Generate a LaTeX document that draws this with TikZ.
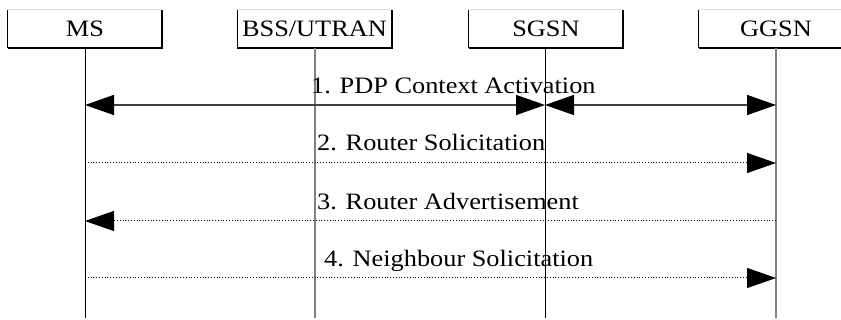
\documentclass[tikz,border=0pt]{standalone}
\usepackage{fontspec}
\setmainfont[FakeStretch=1.12]{Liberation Serif}
\usetikzlibrary{arrows.meta}
\begin{document}
\begin{tikzpicture}[x=1pt,y=-1pt,
  entity/.style={minimum width=154pt,minimum height=38pt,inner sep=0pt},
  etext/.style={anchor=base,inner sep=0pt,font=\fontsize{23.5}{25}\selectfont},
  lifeblack/.style={line width=1pt,black},
  lifegray/.style={line width=1.2pt,black!50},
  msgsolid/.style={line width=1.5pt,black!75,{Triangle[length=29pt,width=20pt,fill=black,color=black]}-{Triangle[length=29pt,width=20pt,fill=black,color=black]}},
  msgdot/.style={line width=1pt,dash pattern=on 1pt off 1.8pt,black},
  tip/.style={-{Triangle[length=29pt,width=20pt]}},
  lbl/.style={anchor=base west,inner sep=0pt,font=\fontsize{23.5}{25}\selectfont}]
\useasboundingbox (0,0) rectangle (841,320);
\clip (0,0) rectangle (841,320);
% entity boxes
\node[entity] (ms) at (85,29) {};
\node[entity] (bss) at (314.5,29) {};
\node[entity] (sgsn) at (546,29) {};
\node[entity] (ggsn) at (776,29) {};
\foreach \n in {ms,bss,sgsn,ggsn}{
  \draw[black!12,line width=0.6pt] (\n.north west) -- (\n.north east);
  \draw[line width=1pt] (\n.north west) -- (\n.south west);
  \draw[line width=1.6pt] (\n.south west) -- (\n.south east) -- (\n.north east);
}
\node[etext] (mst) at (85,37) {MS};
\node[etext] (bsst) at (314.5,37) {BSS/UTRAN};
\node[etext] (sgsnt) at (546,37) {SGSN};
\node[etext] (ggsnt) at (776,37) {GGSN};
% lifeline ends
\coordinate (msE) at (85,318);
\coordinate (bssE) at (315,318);
\coordinate (sgsnE) at (545,318);
\coordinate (ggsnE) at (776,318);
\draw[lifeblack] (ms.south -| msE) -- (msE);
\draw[lifegray] (bss.south -| bssE) -- (bssE);
\draw[lifeblack] (sgsn.south -| sgsnE) -- (sgsnE);
\draw[lifegray] (ggsn.south -| ggsnE) -- (ggsnE);
% message points
\coordinate (ms1) at (85,105);  \coordinate (sg1) at (545,105); \coordinate (gg1) at (776,105);
\coordinate (ms2) at (85,163);  \coordinate (gg2) at (776,163);
\coordinate (ms3) at (85,221);  \coordinate (gg3) at (776,221);
\coordinate (ms4) at (85,278);  \coordinate (gg4) at (776,278);
% messages
\draw[msgsolid] (ms1) -- (sg1);
\draw[msgsolid] (sg1) -- (gg1);
\draw[msgdot,tip] (ms2) -- (gg2);
\draw[msgdot,tip] (gg3) -- (ms3);
\draw[msgdot,tip] (ms4) -- (gg4);
% labels
\node[lbl] (l1) at (311,94) {1. PDP Context Activation};
\node[lbl] (l2) at (317,151) {2. Router Solicitation};
\node[lbl] (l3) at (317,210) {3. Router Advertisement};
\node[lbl] (l4) at (324,267) {4. Neighbour Solicitation};
\end{tikzpicture}
\end{document}
